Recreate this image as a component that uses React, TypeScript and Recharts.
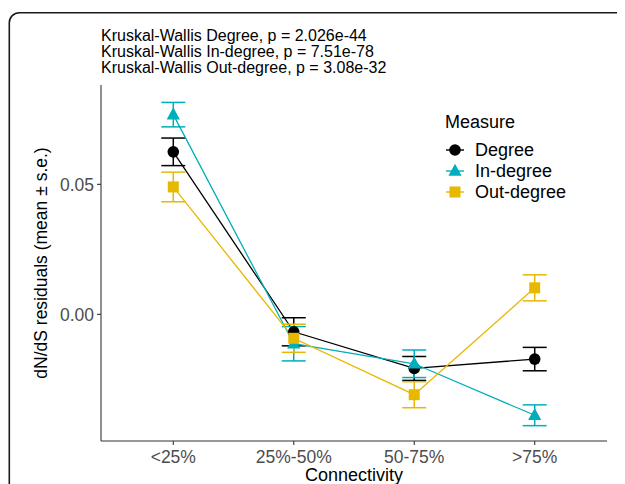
import React from "react";
import { LineChart, Line, XAxis, YAxis, ErrorBar, Legend } from "recharts";

const categories = ["<25%", "25%-50%", "50-75%", ">75%"];
const degreeMean = [0.0625, -0.0067, -0.0208, -0.0172];
const degreeSe = [0.0053, 0.0054, 0.0046, 0.0045];
const inDegreeMean = [0.0768, -0.0113, -0.0190, -0.0388];
const inDegreeSe = [0.0047, 0.0066, 0.0053, 0.0040];
const outDegreeMean = [0.0490, -0.0092, -0.0309, 0.0102];
const outDegreeSe = [0.0057, 0.0054, 0.0050, 0.0050];
const yTicks = [0, 0.05];
const yTickLabels = ["0.00", "0.05"];
const titleLines = [
  "Kruskal-Wallis Degree, p = 2.026e-44",
  "Kruskal-Wallis In-degree, p = 7.51e-78",
  "Kruskal-Wallis Out-degree, p = 3.08e-32",
];
const seriesNames = ["Degree", "In-degree", "Out-degree"];
const seriesColors = ["#000000", "#00AFBB", "#E7B800"];

const data = categories.map((c, i) => ({
  x: i + 1,
  label: c,
  degree: degreeMean[i],
  degreeSe: degreeSe[i],
  inDegree: inDegreeMean[i],
  inDegreeSe: inDegreeSe[i],
  outDegree: outDegreeMean[i],
  outDegreeSe: outDegreeSe[i],
}));

const FONT = "'Liberation Sans', Arial, Helvetica, sans-serif";

const CircleDot = (props: any) => {
  const { cx, cy, index } = props;
  if (cx == null || cy == null) return <g key={`c${index}`} />;
  return <circle key={`c${index}`} cx={cx} cy={cy} r={5.8} fill={seriesColors[0]} />;
};
const TriDot = (props: any) => {
  const { cx, cy, index } = props;
  if (cx == null || cy == null) return <g key={`t${index}`} />;
  return (
    <polygon
      key={`t${index}`}
      points={`${cx},${cy - 7.3} ${cx - 6.6},${cy + 4.8} ${cx + 6.6},${cy + 4.8}`}
      fill={seriesColors[1]}
    />
  );
};
const SqDot = (props: any) => {
  const { cx, cy, index } = props;
  if (cx == null || cy == null) return <g key={`s${index}`} />;
  return <rect key={`s${index}`} x={cx - 5.5} y={cy - 5.5} width={11} height={11} fill={seriesColors[2]} />;
};

const LegendContent = () => {
  const marker = (i: number) => {
    const c = seriesColors[i];
    return (
      <svg width={22} height={20} style={{ display: "block" }}>
        <line x1={1} y1={10} x2={19} y2={10} stroke={c} strokeWidth={1.4} />
        {i === 0 && <circle cx={10} cy={10} r={5.8} fill={c} />}
        {i === 1 && <polygon points={`10,2.7 3.4,14.8 16.6,14.8`} fill={c} />}
        {i === 2 && <rect x={4.5} y={4.5} width={11} height={11} fill={c} />}
      </svg>
    );
  };
  return (
    <div style={{ fontFamily: FONT, color: "#000" }}>
      <div style={{ fontSize: 18, lineHeight: "22px", marginBottom: 6 }}>Measure</div>
      {seriesNames.map((n, i) => (
        <div key={n} style={{ display: "flex", alignItems: "center", height: 21 }}>
          <div style={{ width: 30, paddingLeft: 0 }}>{marker(i)}</div>
          <div style={{ fontSize: 18, lineHeight: "20px" }}>{n}</div>
        </div>
      ))}
    </div>
  );
};

export default function App() {
  return (
    <div
      style={{
        position: "relative",
        width: 625,
        height: 484,
        marginLeft: -8,
        marginTop: -8,
        overflow: "hidden",
        background: "#fff",
      }}
    >
      <svg
        width={625}
        height={484}
        style={{ position: "absolute", left: 0, top: 0 }}
      >
        <path
          d="M 9.3 490 L 9.3 22.7 A 10 10 0 0 1 19.3 12.7 L 630 12.7"
          fill="none"
          stroke="#1a1a1a"
          strokeWidth={1.6}
        />
        {titleLines.map((t, i) => (
          <text
            key={i}
            x={101}
            y={40.5 + i * 16.2}
            fontSize={16}
            fontFamily={FONT}
            fill="#000"
          >
            {t}
          </text>
        ))}
      </svg>
      <div style={{ position: "absolute", left: 0, top: 0 }}>
        <LineChart
          width={625}
          height={484}
          data={data}
          margin={{ top: 85, right: 18, bottom: 0, left: 0 }}
        >
          <XAxis
            dataKey="x"
            type="number"
            domain={[0.4, 4.6]}
            ticks={[1, 2, 3, 4]}
            allowDataOverflow
            tickFormatter={(v: number) => categories[v - 1]}
            height={43}
            stroke="#333"
            strokeWidth={1.1}
            tickSize={4}
            tickMargin={6}
            tick={{ fill: "#4d4d4d", fontSize: 17.5, fontFamily: FONT }}
            label={{
              value: "Connectivity",
              position: "insideBottom",
              offset: 3,
              fill: "#000",
              fontSize: 18,
              fontFamily: FONT,
            }}
          />
          <YAxis
            type="number"
            domain={[-0.0487, 0.0882]}
            allowDataOverflow
            ticks={yTicks}
            tickFormatter={(v: number) => yTickLabels[yTicks.indexOf(v)]}
            width={101}
            stroke="#333"
            strokeWidth={1.1}
            tickSize={4}
            tickMargin={3}
            tick={{ fill: "#4d4d4d", fontSize: 17.5, fontFamily: FONT }}
            label={{
              value: "dN/dS residuals (mean ± s.e.)",
              angle: -90,
              position: "insideLeft",
              offset: 41,
              style: { textAnchor: "middle" },
              fill: "#000",
              fontSize: 17.5,
              fontFamily: FONT,
            }}
          />
          <Legend
            layout="vertical"
            align="center"
            verticalAlign="middle"
            content={() => <LegendContent />}
            wrapperStyle={{ position: "absolute", left: 445, top: 111, width: 170 }}
          />
          <Line
            dataKey="degree"
            name="Degree"
            stroke={seriesColors[0]}
            strokeWidth={1.3}
            dot={CircleDot}
            activeDot={false}
            isAnimationActive={false}
          >
            <ErrorBar dataKey="degreeSe" width={12} stroke={seriesColors[0]} strokeWidth={1.5} direction="y" />
          </Line>
          <Line
            dataKey="inDegree"
            name="In-degree"
            stroke={seriesColors[1]}
            strokeWidth={1.3}
            dot={TriDot}
            activeDot={false}
            isAnimationActive={false}
          >
            <ErrorBar dataKey="inDegreeSe" width={12} stroke={seriesColors[1]} strokeWidth={1.5} direction="y" />
          </Line>
          <Line
            dataKey="outDegree"
            name="Out-degree"
            stroke={seriesColors[2]}
            strokeWidth={1.3}
            dot={SqDot}
            activeDot={false}
            isAnimationActive={false}
          >
            <ErrorBar dataKey="outDegreeSe" width={12} stroke={seriesColors[2]} strokeWidth={1.5} direction="y" />
          </Line>
        </LineChart>
      </div>
    </div>
  );
}
